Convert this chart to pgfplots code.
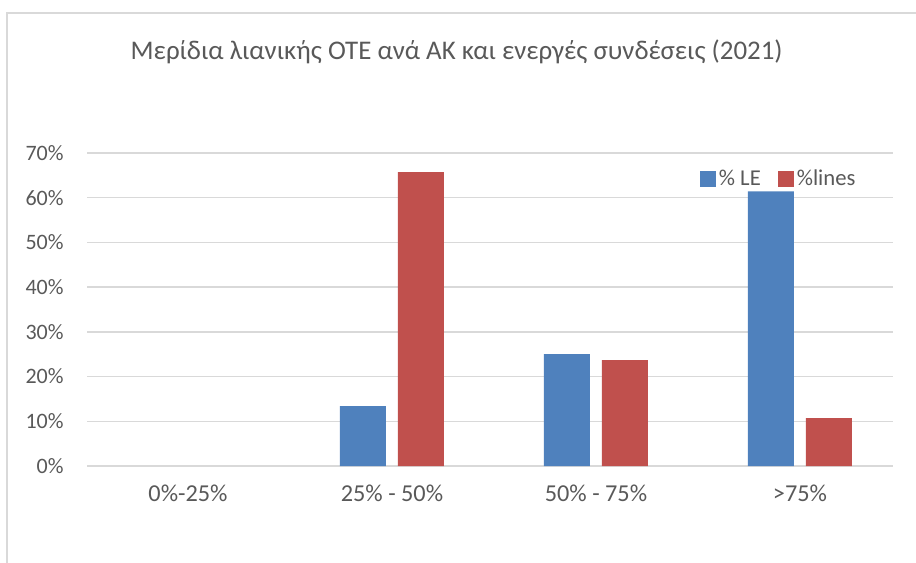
\documentclass[border=0pt]{standalone}
\usepackage{pgfplots}
\pgfplotsset{compat=1.18}
\usepackage{fontspec}
\setmainfont{Carlito}
\definecolor{bblue}{HTML}{4F81BD}
\definecolor{bred}{HTML}{C0504D}
\definecolor{gridc}{HTML}{D9D9D9}
\definecolor{txt}{HTML}{595959}
\begin{document}
\begin{tikzpicture}
\useasboundingbox (0pt,0pt) rectangle (687pt,-422.25pt);
\draw[gridc, line width=1.2pt] (5.25pt,-422.25pt) -- (5.25pt,-9.75pt) -- (687pt,-9.75pt);
\node[txt, font=\fontsize{20.2}{24}\selectfont] at (342.5pt,-38.5pt) {Μερίδια λιανικής ΟΤΕ ανά ΑΚ και ενεργές συνδέσεις (2021)};
\begin{axis}[
  at={(65.25pt,-349.5pt)}, anchor=south west,
  scale only axis, width=604.5pt, height=234.75pt,
  ybar=9pt, bar width=34.5pt,
  xmin=-0.495, xmax=3.456, ymin=0, ymax=70,
  xtick={0,1,2,3},
  xticklabels={0\%-25\%, 25\% - 50\%, 50\% - 75\%, >75\%},
  ytick={0,10,...,70},
  yticklabel={\pgfmathprintnumber{\tick}\%},
  /pgf/number format/assume math mode=true,
  major tick length=0pt,
  axis line style={draw=none},
  ymajorgrids, grid style={gridc, line width=1.1pt},
  xticklabel style={txt, font=\fontsize{18.2}{21}\selectfont, yshift=-11pt},
  yticklabel style={txt, font=\fontsize{16.5}{19}\selectfont, xshift=-14pt},
  legend style={at={(0.7605,0.917)}, anchor=west, draw=none, fill=none, inner sep=0pt,
    font=\fontsize{17}{20}\selectfont, text=txt, legend columns=2,
    /tikz/every even column/.append style={column sep=11pt}},
  legend cell align=left,
  legend image code/.code={\fill[#1, draw=none] (0pt,-5.8pt) rectangle (12pt,5.8pt);},
]
\addplot[fill=bblue, draw=none] coordinates {(1,13.4) (2,25.0) (3,61.4)};
\addplot[fill=bred, draw=none] coordinates {(1,65.7) (2,23.7) (3,10.7)};
\legend{\% LE, \%lines}
\end{axis}
\end{tikzpicture}
\end{document}
